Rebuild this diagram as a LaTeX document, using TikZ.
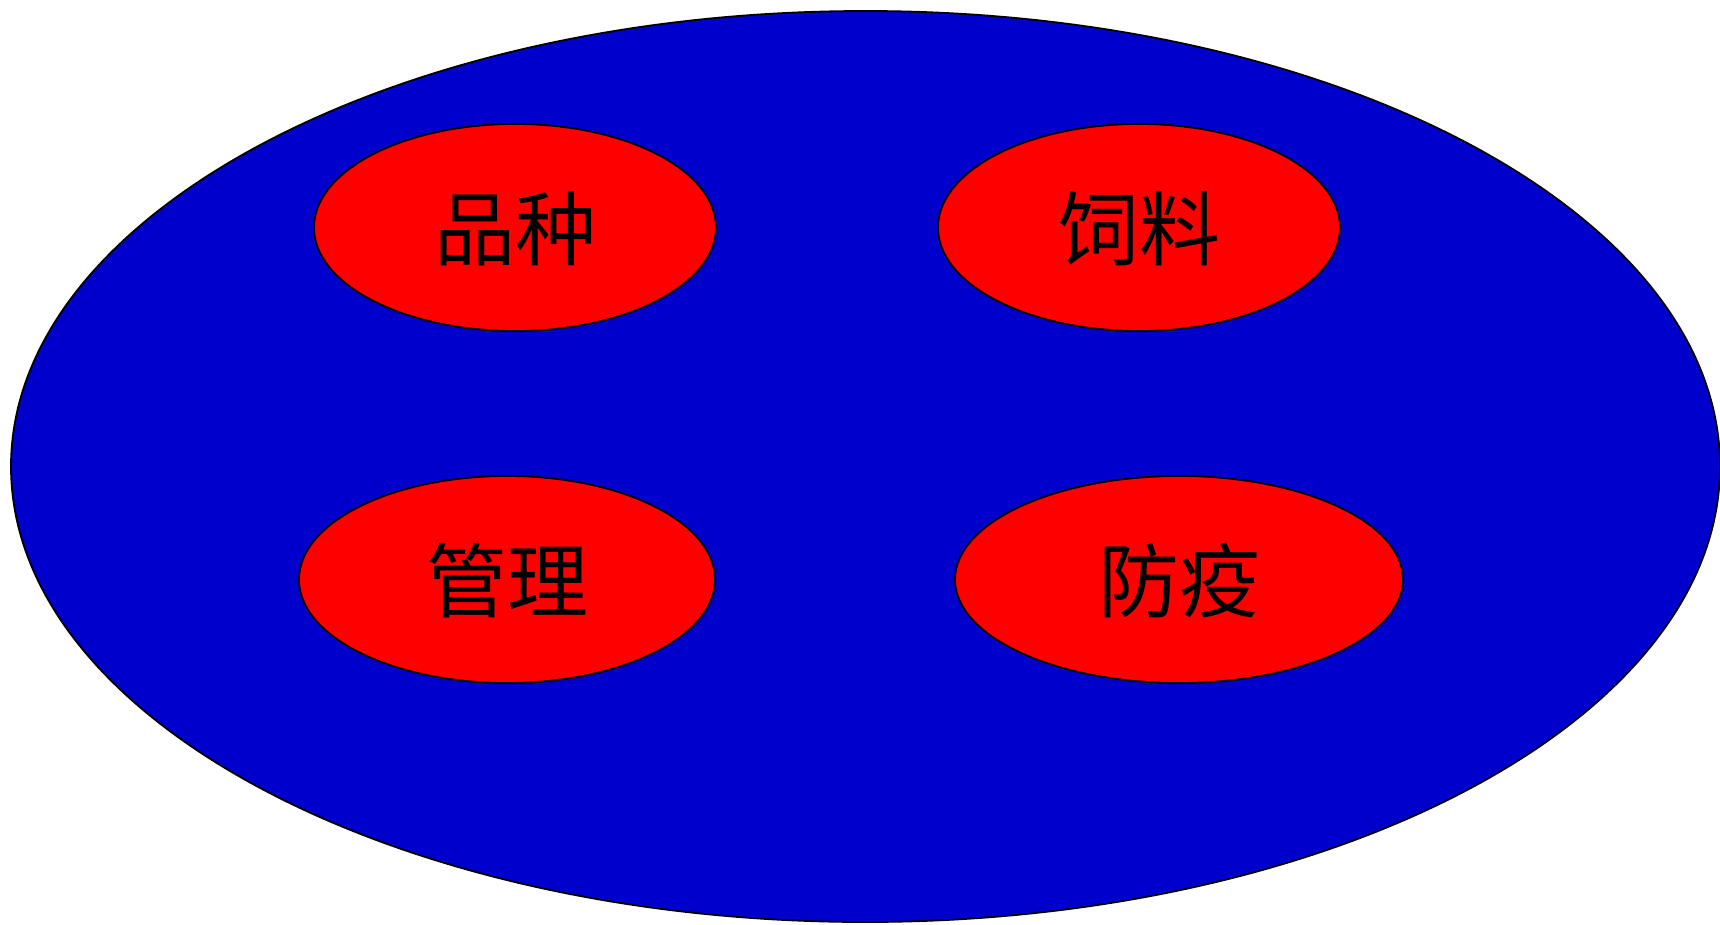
\documentclass[tikz,border=0pt]{standalone}
\usepackage{fontspec}
\newfontfamily\cjk{Noto Sans CJK SC}
\usetikzlibrary{shapes.geometric}
\definecolor{bigblue}{HTML}{0000CC}
\definecolor{redfill}{HTML}{FF0000}
\begin{document}
\begin{tikzpicture}[x=1pt,y=-1pt,
  outer/.style={draw=black,line width=1.8pt,fill=bigblue},
  item/.style={draw=black,line width=1.8pt,fill=redfill},
  lbl/.style={font=\cjk\fontsize{81}{86}\selectfont,text=black}]
\useasboundingbox (0,0) rectangle (1720,924);
\draw[outer] (865.5,466.5) ellipse [x radius=854.5, y radius=455.5];
\draw[item] (515,227.5) ellipse [x radius=201, y radius=103.5];
\draw[item] (1139,227.5) ellipse [x radius=201, y radius=103.5];
\draw[item] (507,579.5) ellipse [x radius=208, y radius=103.5];
\draw[item] (1179,579.5) ellipse [x radius=224, y radius=103.5];
\node[lbl] (pz) at (515,229) {品种};
\node[lbl] (sl) at (1139,229) {饲料};
\node[lbl] (gl) at (507,581) {管理};
\node[lbl] (fy) at (1179,581) {防疫};
\end{tikzpicture}
\end{document}
